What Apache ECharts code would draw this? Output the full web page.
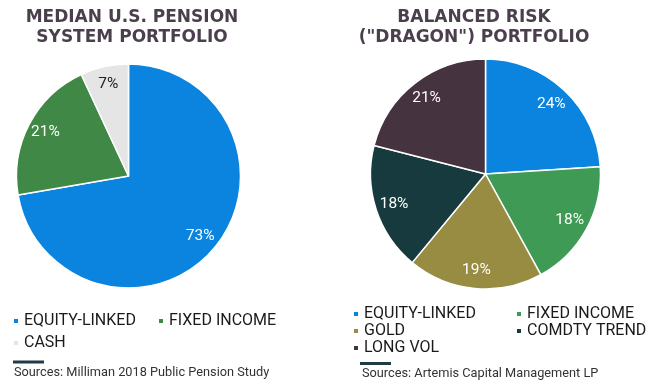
<!DOCTYPE html>
<html><head><meta charset="utf-8">
<script src="https://cdn.jsdelivr.net/npm/echarts@6/dist/echarts.min.js"></script>
<style>html,body{margin:0;padding:0;background:#fff;width:655px;height:387px;overflow:hidden}
.c{position:absolute;left:0;top:0;width:655px;height:387px}</style></head>
<body><div id="a" class="c"></div><div id="b" class="c"></div>
<script>
const pensionCategories = ['EQUITY-LINKED', 'FIXED INCOME', 'CASH'];
const pensionValues = [73, 21, 7];
const dragonCategories = ['EQUITY-LINKED', 'FIXED INCOME', 'GOLD', 'COMDTY TREND', 'LONG VOL'];
const dragonValues = [24, 18, 19, 18, 21];
const pensionTitle = 'MEDIAN U.S. PENSION\nSYSTEM PORTFOLIO';
const dragonTitle = 'BALANCED RISK\n("DRAGON") PORTFOLIO';
const pensionSource = 'Sources: Milliman 2018 Public Pension Study';
const dragonSource = 'Sources: Artemis Capital Management LP';

const pensionColors = ['#0A84DF', '#3F8845', '#E5E5E5'];
const dragonColors = ['#0A84DF', '#3F9A55', '#988C42', '#173A3E', '#45333F'];
const pensionLabelColors = ['#ffffff', '#ffffff', '#222222'];
const dragonLabelColors = ['#ffffff', '#ffffff', '#ffffff', '#ffffff', '#ffffff'];

function legendBox(names, left, top, gap) {
  return {
    left: left, top: top, orient: 'vertical',
    itemWidth: 6, itemHeight: 6, itemGap: gap, icon: 'rect', data: names,
    selectedMode: false, padding: 0,
    textStyle: { fontFamily: 'Roboto', fontSize: 16, color: '#1a1a1a' }
  };
}

function makeOption(c) {
  const data = c.cats.map((n, i) => ({ name: n, value: c.vals[i], itemStyle: { color: c.colors[i] } }));
  const labelData = c.cats.map((n, i) => ({ name: n, value: c.vals[i], label: { color: c.labelColors[i] } }));
  return {
    animation: false,
    backgroundColor: 'transparent',
    legend: c.legends,
    series: [
      { type: 'pie', center: c.center, radius: [0, c.r], data: data, silent: true,
        label: { show: false }, labelLine: { show: false },
        itemStyle: { borderColor: '#ffffff', borderWidth: 1.5 } },
      { type: 'pie', center: c.center, radius: [c.r * 0.62, c.r], data: labelData, silent: true,
        itemStyle: { color: 'rgba(0,0,0,0)', borderWidth: 0 },
        label: { show: true, position: 'inside', formatter: '{c}%', fontFamily: 'Roboto', fontSize: 15.5 },
        labelLine: { show: false } }
    ],
    graphic: [
      { type: 'text', x: c.titleX, y: 7, style: { text: c.title, textAlign: 'center', textVerticalAlign: 'top',
        fontFamily: 'DejaVu Sans', fontWeight: 'bold', fontSize: 17, lineHeight: 20.5, fill: '#4B3F4E' } },
      { type: 'rect', shape: { x: c.barX, y: c.barY, width: 31, height: 3 }, style: { fill: '#1F3B44' } },
      { type: 'text', x: c.srcX, y: c.srcY, style: { text: c.source, textAlign: 'left', textVerticalAlign: 'middle',
        fontFamily: 'Roboto', fontSize: 12.75, fill: '#333333' } }
    ]
  };
}

const chartA = echarts.init(document.getElementById('a'), null, { renderer: 'canvas' });
chartA.setOption(makeOption({
  cats: pensionCategories, vals: pensionValues, colors: pensionColors, labelColors: pensionLabelColors,
  center: [128.5, 176], r: 112, title: pensionTitle, titleX: 132, source: pensionSource,
  legends: [
    legendBox([pensionCategories[0], pensionCategories[2]], 12, 313, 6),
    legendBox([pensionCategories[1]], 157, 313, 6)
  ],
  barX: 13, barY: 360.5, srcX: 14, srcY: 373
}));
const chartB = echarts.init(document.getElementById('b'), null, { renderer: 'canvas' });
chartB.setOption(makeOption({
  cats: dragonCategories, vals: dragonValues, colors: dragonColors, labelColors: dragonLabelColors,
  center: [485.5, 174], r: 115, title: dragonTitle, titleX: 474, source: dragonSource,
  legends: [
    legendBox([dragonCategories[0], dragonCategories[2], dragonCategories[4]], 352, 306, 1),
    legendBox([dragonCategories[1], dragonCategories[3]], 515, 306, 1)
  ],
  barX: 360, barY: 362, srcX: 362, srcY: 374
}));
</script></body></html>
